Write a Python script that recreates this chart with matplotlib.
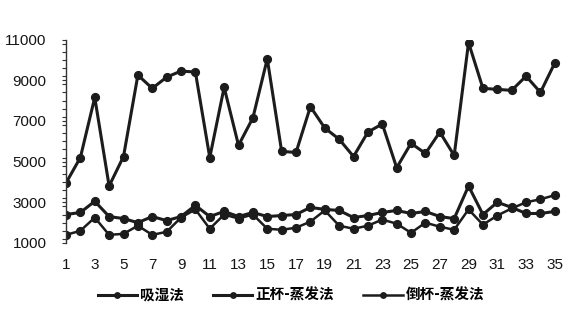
import matplotlib
matplotlib.use("Agg")
import matplotlib.pyplot as plt
from matplotlib.ticker import MultipleLocator, FixedLocator

plt.rcParams['font.family'] = ['Noto Sans CJK SC', 'DejaVu Sans']

# Sample numbers 1..35
samples = list(range(1, 36))

# Measured values for the three methods
xishi = [3950, 5200, 8150, 3800, 5250, 9250, 8600, 9150, 9450, 9400,
         5200, 8650, 5800, 7150, 10050, 5500, 5450, 7700, 6650, 6100,
         5250, 6450, 6850, 4700, 5900, 5400, 6450, 5300, 10850, 8600,
         8550, 8500, 9200, 8400, 9850]
zhengbei = [2400, 2500, 3050, 2300, 2200, 2000, 2300, 2100, 2300, 2850,
            2300, 2550, 2300, 2500, 2300, 2350, 2400, 2750, 2650, 2600,
            2250, 2350, 2500, 2600, 2450, 2550, 2300, 2200, 3800, 2400,
            3000, 2750, 2450, 2450, 2550]
daobei = [1400, 1600, 2250, 1400, 1450, 1850, 1400, 1550, 2250, 2650,
          1700, 2400, 2200, 2400, 1700, 1650, 1750, 2050, 2600, 1850,
          1700, 1850, 2150, 1950, 1500, 2000, 1800, 1650, 2650, 1900,
          2350, 2700, 3000, 3150, 3350]

series_names = ['吸湿法', '正杯-蒸发法', '倒杯-蒸发法']
x_ticks = list(range(1, 36, 2))
y_ticks = list(range(1000, 11001, 2000))

W, H = 575, 331
fig = plt.figure(figsize=(W / 100, H / 100), dpi=100)
ax = fig.add_axes([66 / W, 1 - 243 / H, (562 - 66) / W, (243 - 39.5) / H])

color = '#1c1c1c'
for vals, name, lw in zip([xishi, zhengbei, daobei], series_names, [2.2, 2.2, 1.8]):
    ax.plot(samples, vals, color=color, lw=lw, marker='o', ms=5.6,
            label=name, solid_joinstyle='round')

ax.set_xlim(1, 35.5)
ax.set_ylim(1000, 11000)
ax.yaxis.set_major_locator(FixedLocator(y_ticks))
ax.yaxis.set_minor_locator(MultipleLocator(400))
ax.set_xticks(x_ticks)

for s in ['top', 'right', 'bottom']:
    ax.spines[s].set_visible(False)
ax.spines['left'].set_color('#333333')
ax.spines['left'].set_linewidth(1.0)

ax.tick_params(axis='y', which='both', length=3, width=0.8, color='#333333',
               direction='out', pad=11)
ax.tick_params(axis='x', length=0, pad=11)
for lab in ax.get_xticklabels() + ax.get_yticklabels():
    lab.set_family(['Liberation Sans', 'DejaVu Sans'])
    lab.set_fontsize(11)
    lab.set_color('#151515')

fig.legend(loc='center', bbox_to_anchor=(0.506, 0.109), ncol=3, frameon=False,
           handlelength=2.7, handletextpad=0.2, columnspacing=2.0,
           markerscale=0.7, prop={'family': ['Noto Sans CJK SC', 'DejaVu Sans'],
                                  'size': 10.5, 'weight': 'bold'})

fig.savefig('out.png', dpi=100, facecolor='white')
